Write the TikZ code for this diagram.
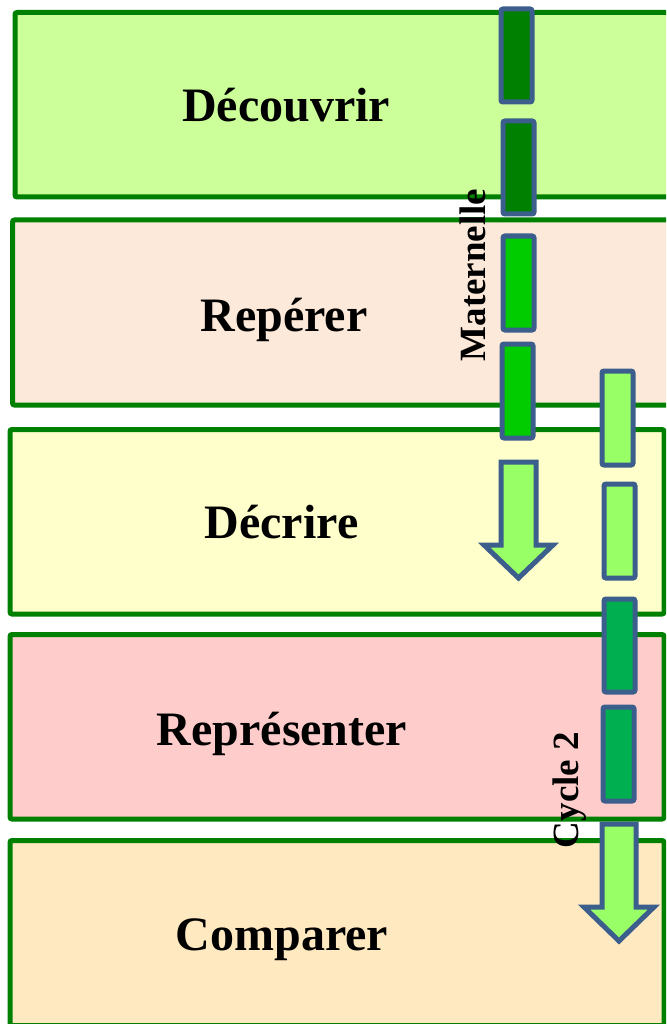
\documentclass[tikz,border=0pt]{standalone}
\usepackage{fontspec}
\setmainfont{Liberation Serif}
\definecolor{bordergreen}{HTML}{008000}
\definecolor{fillA}{HTML}{CCFF99}
\definecolor{fillB}{HTML}{FDE9D9}
\definecolor{fillC}{HTML}{FFFFCC}
\definecolor{fillD}{HTML}{FFCCCC}
\definecolor{fillE}{HTML}{FFE9C0}
\definecolor{barline}{HTML}{3B5E8C}
\definecolor{darkbar}{HTML}{008000}
\definecolor{brightbar}{HTML}{00CC00}
\definecolor{lightbar}{HTML}{99FF66}
\definecolor{midbar}{HTML}{00B050}
\tikzset{
  box/.style={draw=bordergreen, line width=5pt, rounded corners=2pt},
  bar/.style={draw=barline, line width=5pt, rounded corners=2pt},
  arrowshape/.style={draw=barline, line width=5pt, line join=miter, fill=lightbar},
  label/.style={font=\bfseries\fontsize{48}{48}\selectfont, anchor=base, inner sep=0pt},
  sidelabel/.style={font=\bfseries\fontsize{37}{37}\selectfont, anchor=base, inner sep=0pt, rotate=90}
}
\begin{document}
\begin{tikzpicture}[x=1pt,y=-1pt]
\useasboundingbox (0,0) rectangle (666,1024);
\clip (0,0) rectangle (666,1024);
% boxes
\draw[box, fill=fillA] (15,12.5) rectangle (690,197);
\draw[box, fill=fillB] (12.5,220) rectangle (690,405);
\draw[box, fill=fillC] (10,429.5) rectangle (664,614);
\draw[box, fill=fillD] (10,634.5) rectangle (664,819);
\draw[box, fill=fillE] (10,840.5) rectangle (664,1025.5);
% labels
\node[label] (t1) at (286,122) {Découvrir};
\node[label] (t2) at (284,331) {Repérer};
\node[label] (t3) at (281.5,538) {Décrire};
\node[label] (t4) at (282,745) {Représenter};
\node[label] (t5) at (282,950) {Comparer};
% Maternelle bars
\draw[bar, fill=darkbar] (501,9) rectangle (532,102);
\draw[bar, fill=darkbar] (503,121) rectangle (534,214);
\draw[bar, fill=brightbar] (503,236) rectangle (534,330);
\draw[bar, fill=brightbar] (502,344) rectangle (533,438);
\draw[arrowshape] (501,462) -- (536,462) -- (536,545) -- (553,545) -- (518.5,578) -- (484,545) -- (501,545) -- cycle;
% Cycle 2 bars
\draw[bar, fill=lightbar] (602,371) rectangle (633,465);
\draw[bar, fill=lightbar] (604,484) rectangle (635,578);
\draw[bar, fill=midbar] (604,599) rectangle (635,692);
\draw[bar, fill=midbar] (603,707) rectangle (634,801);
\draw[arrowshape] (602,824) -- (636,824) -- (636,907) -- (654,907) -- (619,941) -- (584,907) -- (602,907) -- cycle;
% side labels
\node[sidelabel] (m) at (485,275) {Maternelle};
\node[sidelabel] (c) at (578,790) {Cycle 2};
\end{tikzpicture}
\end{document}
